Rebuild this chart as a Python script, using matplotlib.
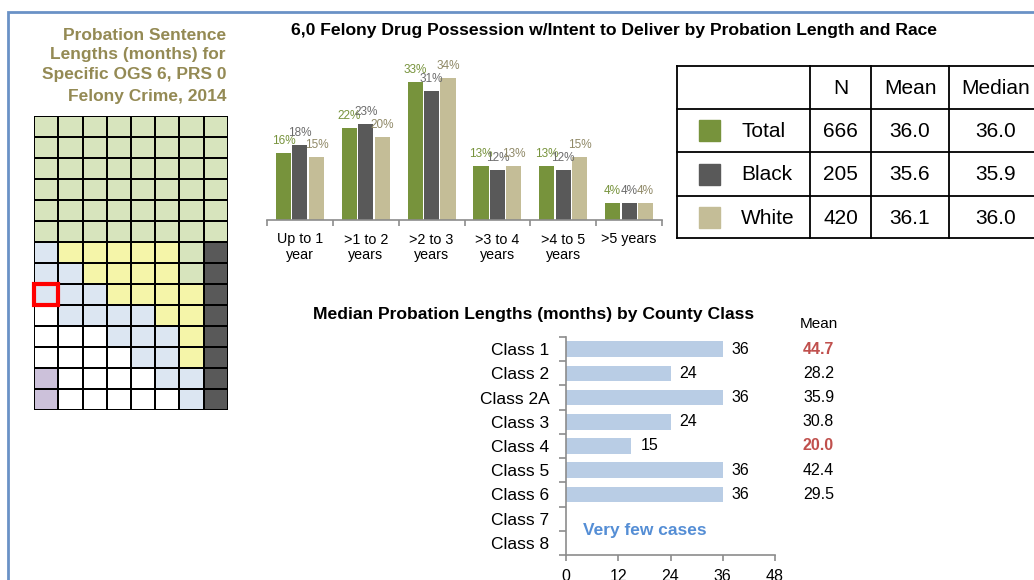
import matplotlib
matplotlib.use("Agg")
import matplotlib.pyplot as plt
import numpy as np
from matplotlib.colors import ListedColormap
from matplotlib.patches import Rectangle

plt.rcParams['font.family'] = ['Liberation Sans', 'DejaVu Sans']

# ---------------- data ----------------
grid_rows = [
    "GGGGGGGG",
    "GGGGGGGG",
    "GGGGGGGG",
    "GGGGGGGG",
    "GGGGGGGG",
    "GGGGGGGG",
    "BYYYYYGD",
    "BBYYYYGD",
    "BBBYYYYD",
    "WBBBBYYD",
    "WWWBBBYD",
    "WWWWBBYD",
    "PWWWWBBD",
    "PWWWWWBD",
]
grid_highlight = (8, 0)  # row, col

left_title = ["Probation Sentence", "Lengths (months) for",
              "Specific OGS 6, PRS 0", "Felony Crime, 2014"]

length_cats = ["Up to 1\nyear", ">1 to 2\nyears", ">2 to 3\nyears",
               ">3 to 4\nyears", ">4 to 5\nyears", ">5 years"]
pct_total = [16, 22, 33, 13, 13, 4]
pct_black = [18, 23, 31, 12, 12, 4]
pct_white = [15, 20, 34, 13, 15, 4]

races = ["Total", "Black", "White"]
race_n = [666, 205, 420]
race_mean = [36.0, 35.6, 36.1]
race_median = [36.0, 35.9, 36.0]

county_classes = ["Class 1", "Class 2", "Class 2A", "Class 3", "Class 4",
                  "Class 5", "Class 6", "Class 7", "Class 8"]
county_median = [36, 24, 36, 24, 15, 36, 36, np.nan, np.nan]
county_mean = [44.7, 28.2, 35.9, 30.8, 20.0, 42.4, 29.5, None, None]
county_mean_flag = [True, False, False, False, True, False, False, False, False]
county_xticks = [0, 12, 24, 36, 48]

# ---------------- style ----------------
W, H = 1034, 580
C_GREEN = "#77933c"
C_DARK = "#595959"
C_TAN = "#c4bd97"
C_OLIVE = "#948a54"
C_BAR = "#b9cde5"
C_RED = "#c0504d"
C_AXIS = "#8c8c8c"

fig = plt.figure(figsize=(W / 100, H / 100), dpi=100)
fig.patch.set_facecolor("white")


def px_axes(x0, y0, x1, y1):
    return fig.add_axes([x0 / W, 1 - y1 / H, (x1 - x0) / W, (y1 - y0) / H])


# overlay axes in pixel coordinates
ov = fig.add_axes([0, 0, 1, 1])
ov.set_xlim(0, W)
ov.set_ylim(H, 0)
ov.axis("off")
ov.set_zorder(0)

# border
ov.plot([7.5, 7.5, W + 5], [H + 5, 11.5, 11.5], color="#6a92c6", lw=2,
        solid_joinstyle="miter")

# left title
for txt, yy in zip(left_title, [35, 55, 75, 97]):
    ov.text(226, yy, txt, ha="right", va="center", fontsize=12.5,
            fontweight="bold", color=C_OLIVE)

# main titles
ov.text(614, 30, "6,0 Felony Drug Possession w/Intent to Deliver by Probation Length and Race",
        ha="center", va="center", fontsize=12.6, fontweight="bold")
ov.text(534, 314, "Median Probation Lengths (months) by County Class",
        ha="center", va="center", fontsize=12.6, fontweight="bold")

# ---------------- grid ----------------
code_map = {"G": 0, "Y": 1, "B": 2, "D": 3, "W": 4, "P": 5}
cmap = ListedColormap(["#d7e4bd", "#f5f5a9", "#dce6f2", "#595959", "#ffffff", "#ccc1da"])
arr = np.array([[code_map[c] for c in row] for row in grid_rows])
gax = px_axes(34, 116, 228, 410)
gax.pcolormesh(arr, cmap=cmap, vmin=-0.5, vmax=5.5, edgecolors="black", linewidth=1.3)
gax.set_xlim(0, arr.shape[1])
gax.set_ylim(arr.shape[0], 0)
gax.axis("off")
r, c = grid_highlight
gax.add_patch(Rectangle((c, r), 1, 1, fill=False, edgecolor="#ff0000", lw=3, zorder=5,
                        clip_on=False))

# ---------------- bar chart ----------------
bax = px_axes(267, 53, 662, 220)
bax.set_facecolor("none")
x = np.arange(len(length_cats))
bw = 0.23
off = 0.25
series = [(pct_total, C_GREEN, C_GREEN), (pct_black, C_DARK, "#6b6b6b"),
          (pct_white, C_TAN, "#8f8866")]
for k, (vals, col, lcol) in enumerate(series):
    xs = x + (k - 1) * off
    bax.bar(xs, vals, width=bw, color=col, zorder=2)
    for xi, v in zip(xs, vals):
        bax.annotate(f"{v}%", (xi, v), xytext=(0, 12), textcoords="offset pixels",
                     ha="center", va="center", fontsize=8.5, color=lcol)
bax.set_xlim(-0.5, len(length_cats) - 0.5)
bax.set_ylim(0, 40)
for s in ["top", "right", "left"]:
    bax.spines[s].set_visible(False)
bax.spines["bottom"].set_color(C_AXIS)
bax.spines["bottom"].set_linewidth(1.2)
bax.set_yticks([])
bax.set_xticks(x)
bax.set_xticklabels(length_cats, fontsize=10.3, linespacing=1.15)
bax.set_xticks(np.arange(-0.5, len(length_cats)), minor=True)
bax.tick_params(axis="x", which="major", length=0, pad=9)
bax.tick_params(axis="x", which="minor", length=4, color=C_AXIS, width=1.2)

# ---------------- table ----------------
tx = [677, 810, 871, 949, 1043]
ty = [66, 109, 152, 196, 238]
for xx in tx:
    ov.plot([xx, xx], [ty[0], ty[-1]], color="black", lw=1.3)
for yy in ty:
    ov.plot([tx[0], tx[-1]], [yy, yy], color="black", lw=1.3)
headers = ["N", "Mean", "Median"]
for j, h in enumerate(headers):
    ov.text((tx[j + 1] + tx[j + 2]) / 2, (ty[0] + ty[1]) / 2 + 1, h,
            ha="center", va="center", fontsize=15)
sw_cols = [C_GREEN, C_DARK, C_TAN]
for i, race in enumerate(races):
    yc = (ty[i + 1] + ty[i + 2]) / 2
    ov.add_patch(Rectangle((699, yc - 10.5), 21, 21, color=sw_cols[i]))
    ov.text(741, yc + 1, race, ha="left", va="center", fontsize=15)
    vals = [f"{race_n[i]}", f"{race_mean[i]:.1f}", f"{race_median[i]:.1f}"]
    for j, v in enumerate(vals):
        ov.text((tx[j + 1] + tx[j + 2]) / 2, yc + 1, v, ha="center", va="center",
                fontsize=15)

# ---------------- county chart ----------------
cax = px_axes(566, 337, 775, 555)
cax.set_facecolor("none")
y = np.arange(len(county_classes))
cax.barh(y, county_median, height=0.64, color=C_BAR, zorder=2)
for yi, v in zip(y, county_median):
    if not np.isnan(v):
        cax.annotate(f"{int(v)}", (v, yi), xytext=(9, 0), textcoords="offset pixels",
                     ha="left", va="center", fontsize=11.5)
cax.set_xlim(0, 48)
cax.set_ylim(len(county_classes) - 0.5, -0.5)
for s in ["top", "right"]:
    cax.spines[s].set_visible(False)
for s in ["left", "bottom"]:
    cax.spines[s].set_color(C_AXIS)
    cax.spines[s].set_linewidth(1.2)
cax.set_xticks(county_xticks)
cax.set_xticklabels([str(t) for t in county_xticks], fontsize=11.5)
cax.tick_params(axis="x", length=4, color=C_AXIS, width=1.2, pad=6)
cax.set_yticks(y)
cax.set_yticklabels(county_classes, fontsize=12.5)
cax.set_yticks(np.arange(-0.5, len(county_classes)), minor=True)
cax.tick_params(axis="y", which="major", length=0, pad=12)
cax.tick_params(axis="y", which="minor", length=5, color=C_AXIS, width=1.2)

cax.text(58, -1.05, "Mean", ha="center", va="center", fontsize=11, clip_on=False)
for yi, (m, flag) in enumerate(zip(county_mean, county_mean_flag)):
    if m is None:
        continue
    cax.text(58, yi, f"{m:.1f}", ha="center", va="center", fontsize=11.5,
             color=C_RED if flag else "black", fontweight="bold" if flag else "normal",
             clip_on=False)
cax.text(3.9, 7.5, "Very few cases", ha="left", va="center", fontsize=12.5,
         fontweight="bold", color="#558ed5")

fig.savefig("out.png", dpi=100, facecolor="white")
